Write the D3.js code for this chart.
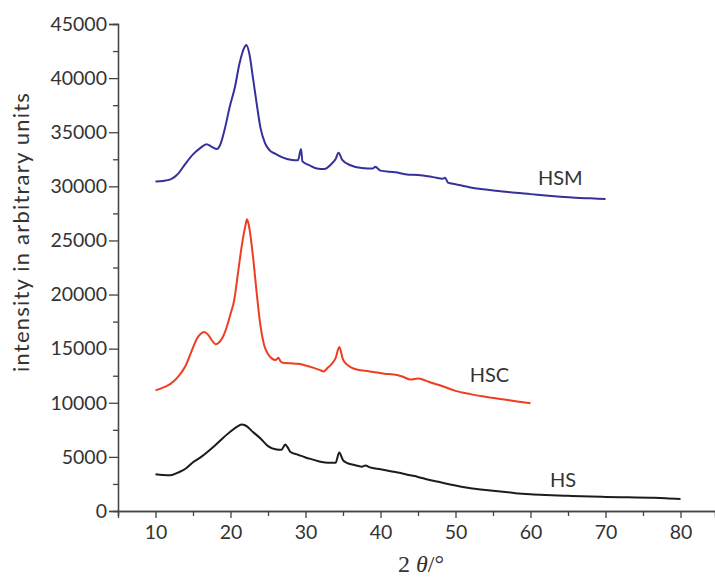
<!DOCTYPE html>
<html>
<head>
<meta charset="utf-8">
<script src="https://cdn.jsdelivr.net/npm/d3@7"></script>
<style>
  html, body { margin: 0; padding: 0; background: #fff; }
  svg text { font-family: Lato, "Open Sans", sans-serif; fill: #333; }
</style>
</head>
<body>
<svg id="chart" width="715" height="577"></svg>
<script>
// XRD patterns: [2θ (degrees), intensity (arb. units)]
const hsData = [
  [10,3400],[11,3330],[12,3300],[13,3550],[14,3900],[15,4500],[16,4950],[17,5500],
  [18,6100],[19,6750],[20,7350],[21,7850],[21.5,8000],[22,7900],[23,7300],[24,6700],
  [25,6000],[26,5700],[26.8,5650],[27.3,6150],[27.6,5900],[28,5450],[29,5200],[30,4950],
  [31,4750],[32,4550],[33,4450],[34,4450],[34.5,5400],[35,4700],[35.5,4450],[36.5,4250],
  [37.5,4100],[38,4200],[38.5,4050],[40,3850],[42,3600],[44,3300],[45,3150],[46,2950],
  [48,2650],[50,2350],[52,2100],[54,1950],[56,1800],[58,1650],[60,1550],[62,1480],
  [65,1400],[68,1330],[70,1300],[73,1260],[76,1220],[78,1180],[80,1100]
];
const hscData = [
  [10,11150],[11,11400],[12,11750],[13,12400],[14,13400],[15,15100],[15.5,15900],
  [16,16350],[16.5,16550],[17,16300],[17.5,15800],[18,15400],[18.5,15600],[19,16100],
  [19.5,17000],[20,18200],[20.5,19500],[21,22000],[21.5,24500],[22,26400],[22.2,26950],
  [22.5,26200],[23,23500],[23.5,20100],[24,17100],[24.5,15300],[25,14500],[25.5,14100],
  [26,13950],[26.4,14150],[26.7,13800],[27,13700],[28,13650],[29,13600],[30,13450],
  [31,13250],[32,13000],[32.4,12900],[33,13250],[33.5,13600],[34,14100],[34.5,15150],
  [35,14000],[35.5,13550],[36,13300],[37,13050],[38,12950],[39,12850],[40,12750],
  [41,12650],[42,12600],[43,12400],[44,12150],[45,12250],[46,12050],[47,11800],
  [48,11600],[50,11100],[52,10800],[54,10550],[56,10350],[58,10150],[60,9950]
];
const hsmData = [
  [10,30450],[11,30500],[12,30650],[12.6,30900],[13,31150],[14,32100],[15,32950],
  [16,33550],[16.8,33900],[17.5,33650],[18.2,33450],[18.6,33800],[19.2,35200],
  [19.9,37350],[20.6,39200],[21.2,41350],[21.9,42900],[22.1,43050],[22.5,42300],
  [23,40000],[23.5,37600],[24,35400],[24.6,34000],[25.2,33350],[26,33000],[27,32650],
  [28,32450],[29,32400],[29.4,33450],[29.6,32300],[30.5,31950],[31.5,31650],[32.5,31600],
  [33.5,32100],[34,32500],[34.4,33100],[34.9,32450],[36,31950],[37.5,31700],[39,31650],
  [39.3,31800],[40,31450],[42,31300],[43.5,31100],[45,31050],[47,30850],[48.3,30700],
  [48.6,30800],[49,30350],[50,30200],[52,29900],[54,29700],[56,29550],[58,29400],
  [60,29280],[62,29150],[64,29040],[66,28950],[68,28890],[70,28830]
];

const seriesNames = ["HS", "HSC", "HSM"];
const seriesColors = ["#1c1c1c", "#ee3e22", "#35309a"];
// label anchor points in data units [2θ, intensity]
const labelPos = [[62.6, 2220], [51.9, 11920], [61.0, 30120]];

const xMajorTicks = [10, 20, 30, 40, 50, 60, 70, 80];
const xMinorTicks = [5, 15, 25, 35, 45, 55, 65, 75, 85];
const yMajorTicks = [0, 5000, 10000, 15000, 20000, 25000, 30000, 35000, 40000, 45000];
const yMinorTicks = [2500, 7500, 12500, 17500, 22500, 27500, 32500, 37500, 42500];

const svg = d3.select("#chart");
const plotLeft = 118, plotRight = 715, plotTop = 24, plotBottom = 511;

const x = d3.scaleLinear().domain([5, 84.6]).range([plotLeft, plotRight]);
const y = d3.scaleLinear().domain([0, 45000]).range([plotBottom, plotTop]);

const axisColor = "#444";

// y axis
const yAxis = svg.append("g").attr("transform", `translate(${plotLeft},0)`)
  .call(d3.axisLeft(y).tickValues(yMajorTicks).tickSize(9).tickPadding(2).tickFormat(d3.format("d")));
yAxis.append("g").call(d3.axisLeft(y).tickValues(yMinorTicks).tickSize(5).tickFormat(""));
yAxis.selectAll("path.domain").attr("stroke", axisColor).attr("stroke-width", 1.3);
yAxis.selectAll(".tick line").attr("stroke", axisColor).attr("stroke-width", 1.3);
yAxis.selectAll(".tick text").style("font-size", "19.5px").attr("fill", "#333");

// x axis
const xAxis = svg.append("g").attr("transform", `translate(0,${plotBottom})`)
  .call(d3.axisBottom(x).tickValues(xMajorTicks).tickSize(7).tickPadding(7).tickFormat(d3.format("d")));
xAxis.append("g").call(d3.axisBottom(x).tickValues(xMinorTicks).tickSize(5).tickFormat(""));
xAxis.selectAll("path.domain").attr("stroke", axisColor).attr("stroke-width", 1.3);
xAxis.selectAll(".tick line").attr("stroke", axisColor).attr("stroke-width", 1.3);
xAxis.selectAll(".tick text").style("font-size", "19.5px").attr("fill", "#333");

// axis titles
svg.append("text")
  .attr("transform", `translate(29,232) rotate(-90)`)
  .attr("text-anchor", "middle")
  .style("font-size", "22px")
  .style("letter-spacing", "1.2px")
  .text("intensity in arbitrary units");

const xt = svg.append("text")
  .attr("x", 421).attr("y", 572)
  .attr("text-anchor", "middle")
  .style("font-family", "'Liberation Serif', serif")
  .style("font-size", "24px");
xt.append("tspan").text("2 ");
xt.append("tspan").style("font-style", "italic").text("θ");
xt.append("tspan").text("/°");

// patterns
const line = d3.line().x(d => x(d[0])).y(d => y(d[1])).curve(d3.curveMonotoneX);
[hsData, hscData, hsmData].forEach((data, i) => {
  svg.append("path")
    .datum(data)
    .attr("fill", "none")
    .attr("stroke", seriesColors[i])
    .attr("stroke-width", 2)
    .attr("stroke-linejoin", "round")
    .attr("d", line);
  svg.append("text")
    .attr("x", x(labelPos[i][0])).attr("y", y(labelPos[i][1]))
    .style("font-size", "20px")
    .text(seriesNames[i]);
});
</script>
</body>
</html>
